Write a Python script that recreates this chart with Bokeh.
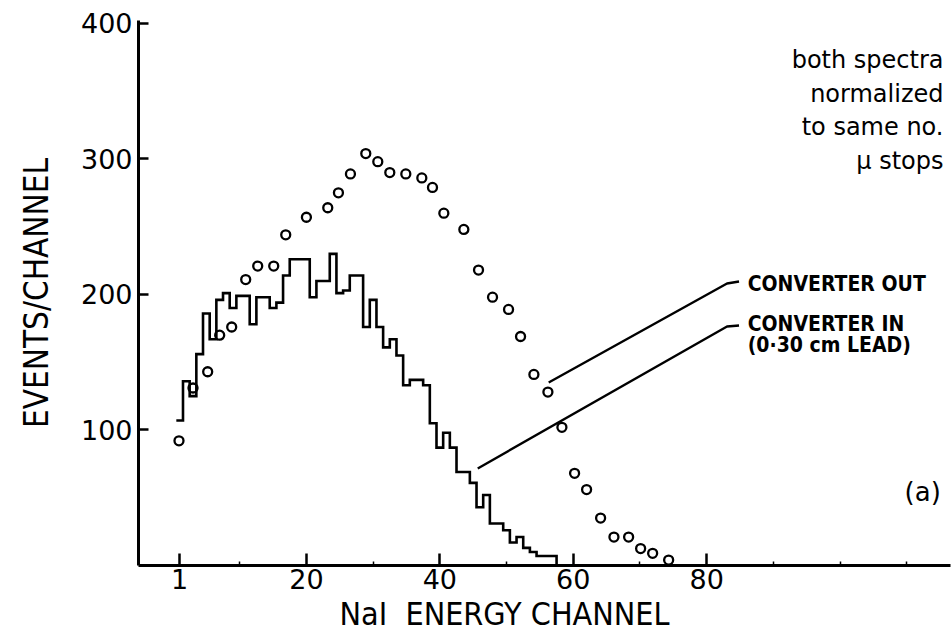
import numpy as np
from bokeh.plotting import figure
from bokeh.models import Range1d, FixedTicker, Label, Title
from bokeh.embed import file_html
from bokeh.resources import INLINE

# Converter in (0.30 cm lead): events per channel, one bin per NaI channel
in_channels = list(range(1, 58))
in_counts = [107, 136, 125, 156, 186, 167, 196, 201, 190, 199,
             199, 178, 198, 198, 190, 194, 214, 226, 226, 226,
             198, 210, 210, 230, 201, 203, 214, 214, 176, 196,
             176, 161, 167, 155, 133, 137, 137, 133, 105, 87,
             98, 87, 69, 69, 61, 43, 52, 31, 31, 26,
             17, 21, 13, 10, 7, 7, 7]

# Converter out: measured points
out_channels = [0.9, 3.0, 5.2, 7.0, 8.8, 10.9, 12.7, 15.1, 16.9, 20.0,
                23.2, 24.8, 26.6, 28.9, 30.7, 32.5, 34.9, 37.3, 38.9, 40.6,
                43.6, 45.8, 47.9, 50.3, 52.1, 54.1, 56.2, 58.3, 60.2, 62.0,
                64.1, 66.1, 68.3, 70.1, 71.9, 74.3]
out_counts = [92, 131, 143, 170, 176, 211, 221, 221, 244, 257,
              264, 275, 289, 304, 298, 290, 289, 286, 279, 260,
              248, 218, 198, 189, 169, 141, 128, 102, 68, 56,
              35, 21, 21, 12.5, 9, 4]

x_ticks = [1, 20, 40, 60, 80]
y_ticks = [100, 200, 300, 400]

FONT = "DejaVu Sans"
COND = "DejaVu Sans Condensed"

p = figure(frame_width=812, frame_height=545, output_backend="svg",
           toolbar_location=None,
           x_range=Range1d(-5.17, 116.55), y_range=Range1d(0, 402.2),
           min_border_left=138, min_border_right=2,
           min_border_top=20, min_border_bottom=72)
p.outline_line_color = None
p.grid.visible = False
p.background_fill_color = "white"
p.border_fill_color = "white"

for ax in (p.xaxis[0], p.yaxis[0]):
    ax.axis_line_width = 3
    ax.axis_line_color = "black"
    ax.major_tick_line_width = 2.5
    ax.major_tick_line_color = "black"
    ax.major_tick_out = 0
    ax.major_label_text_font = FONT
    ax.major_label_text_font_size = "27px"
    ax.major_label_text_color = "black"

p.xaxis.ticker = FixedTicker(ticks=x_ticks, minor_ticks=[10, 30, 50, 70, 90, 100, 110])
p.xaxis.major_tick_in = 12
p.xaxis.minor_tick_in = 4
p.xaxis.minor_tick_out = 0
p.xaxis.minor_tick_line_width = 1.5
p.xaxis.major_label_standoff = 3

p.yaxis.ticker = FixedTicker(ticks=y_ticks, minor_ticks=[])
p.yaxis.major_tick_in = 10
p.yaxis.major_label_standoff = 6
p.yaxis.axis_label = "EVENTS/CHANNEL"
p.yaxis.axis_label_text_font = COND
p.yaxis.axis_label_text_font_size = "33px"
p.yaxis.axis_label_text_font_style = "normal"
p.yaxis.axis_label_text_color = "black"
p.yaxis.axis_label_standoff = 22

# x-axis caption, set off towards the left like the original lettering
p.add_layout(Title(text="NaI\u00a0 ENERGY CHANNEL", align="left", offset=201,
                   standoff=2, text_font=COND, text_font_size="32px",
                   text_font_style="normal", text_color="black"), "below")

# step outline of the converter-in spectrum
ch = np.array(in_channels, dtype=float)
cnt = np.array(in_counts, dtype=float)
step_x = np.column_stack([ch - 0.5, ch + 0.5]).ravel()
step_y = np.column_stack([cnt, cnt]).ravel()
step_x = np.append(step_x, ch[-1] + 0.5)
step_y = np.append(step_y, 0.0)
p.line(step_x, step_y, line_color="black", line_width=2.6, line_join="miter")

# converter-out points
p.scatter(out_channels, out_counts, marker="circle", size=9,
          fill_color=None, line_color="black", line_width=2.3)

# leader lines to the series labels
p.line([56.32, 83.05, 84.85], [135.1, 208.1, 209.6], line_color="black", line_width=2.4)
p.line([45.68, 83.05, 84.85], [71.6, 176.4, 177.1], line_color="black", line_width=2.4)


def add_text(x, y, text, size, font=FONT, align="left", baseline="middle",
             style="normal"):
    p.add_layout(Label(x=x, y=y, text=text, text_font=font,
                       text_font_size=size, text_align=align,
                       text_baseline=baseline, text_font_style=style,
                       text_color="black"))


add_text(86.15, 208.0, "CONVERTER OUT", "21px", font=COND, style="bold")
add_text(86.15, 177.9, "CONVERTER IN", "21px", font=COND, style="bold")
add_text(86.15, 162.5, "(0·30 cm LEAD)", "21px", font=COND, style="bold")

add_text(115.1, 54.6, "(a)", "26px", align="right")

add_text(115.5, 373.0, "both spectra", "24px", align="right", baseline="alphabetic")
add_text(115.5, 348.0, "normalized", "24px", align="right", baseline="alphabetic")
add_text(115.5, 323.5, "to same no.", "24px", align="right", baseline="alphabetic")
add_text(115.5, 298.5, "\u03bc stops", "24px", align="right", baseline="alphabetic")

open("out.html", "w").write(file_html(p, INLINE))
